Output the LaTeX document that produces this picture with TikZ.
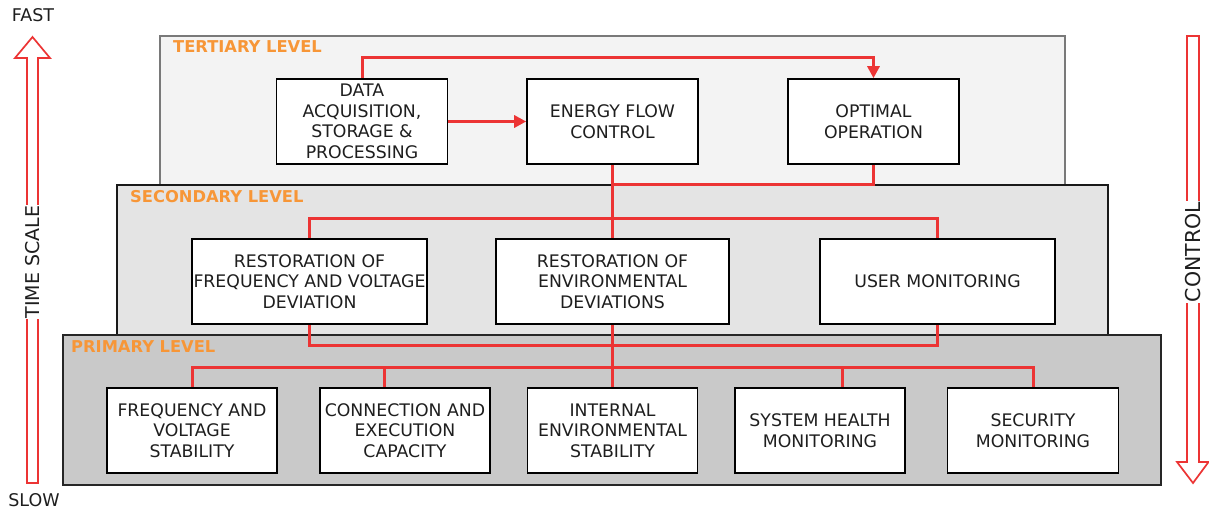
\documentclass[tikz,border=0pt]{standalone}
\usepackage{fontspec}
\setmainfont{DejaVu Sans}
\usetikzlibrary{arrows.meta,calc}
\definecolor{ctrlred}{RGB}{236,52,52}
\definecolor{lvlorange}{RGB}{247,150,55}
\definecolor{txtgray}{RGB}{30,30,30}
\definecolor{tertfill}{RGB}{243,243,243}
\definecolor{secfill}{RGB}{228,228,228}
\definecolor{primfill}{RGB}{201,201,201}
\tikzset{
  fnbox/.style={draw=black, fill=white, line width=1.6pt, rectangle, inner sep=0pt,
    minimum height=85pt, align=center, text=txtgray,
    font=\fontsize{17.3}{20.6}\selectfont},
  lvltitle/.style={anchor=west, inner sep=0pt, text=lvlorange,
    font=\fontsize{16.3}{18}\selectfont\bfseries},
  panel/.style={line width=1.5pt},
  redline/.style={draw=ctrlred, line width=3pt},
  hollowarrow/.style={draw=ctrlred, fill=white, line width=1.7pt, line join=miter},
  sidetext/.style={text=txtgray, font=\fontsize{17.5}{20}\selectfont, inner sep=1pt},
}
\begin{document}
\begin{tikzpicture}[x=1pt,y=-1pt]
\useasboundingbox (0,0) rectangle (1209,512);
\fill[white] (0,0) rectangle (1209,512);

% level panels
\filldraw[panel, fill=tertfill, draw=gray!95!black] (160,36) rectangle (1065,185);
\filldraw[panel, fill=secfill, draw=black!90] (117,185) rectangle (1108,335);
\filldraw[panel, fill=primfill, draw=black!85] (63,335) rectangle (1161,485);

\node[lvltitle] (tlab) at (173,47) {TERTIARY LEVEL};
\node[lvltitle] (slab) at (130,197) {SECONDARY LEVEL};
\node[lvltitle] (plab) at (71,347) {PRIMARY LEVEL};

% function blocks
\node[fnbox, minimum width=171pt] (data) at (362,121.5) {DATA\\ACQUISITION,\\STORAGE \&\\PROCESSING};
\node[fnbox, minimum width=171pt] (energy) at (612.5,121.5) {ENERGY FLOW\\CONTROL};
\node[fnbox, minimum width=171pt] (optimal) at (873.5,121.5) {OPTIMAL\\OPERATION};

\node[fnbox, minimum width=235pt] (restfv) at (309.5,281.5) {RESTORATION OF\\FREQUENCY AND VOLTAGE\\DEVIATION};
\node[fnbox, minimum width=233pt] (restenv) at (612.5,281.5) {RESTORATION OF\\ENVIRONMENTAL\\DEVIATIONS};
\node[fnbox, minimum width=235pt] (user) at (937.5,281.5) {USER MONITORING};

\node[fnbox, minimum width=170pt] (freq) at (192,430.5) {FREQUENCY AND\\VOLTAGE\\STABILITY};
\node[fnbox, minimum width=170pt] (conn) at (405,430.5) {CONNECTION AND\\EXECUTION\\CAPACITY};
\node[fnbox, minimum width=170pt] (internal) at (612.5,430.5) {INTERNAL\\ENVIRONMENTAL\\STABILITY};
\node[fnbox, minimum width=170pt] (sys) at (820,430.5) {SYSTEM HEALTH\\MONITORING};
\node[fnbox, minimum width=171pt] (sec) at (1033,430.5) {SECURITY\\MONITORING};

% bus junctions
\coordinate (tbus) at (612.5,57);
\coordinate (tjoin) at (612.5,184);
\coordinate (sbus) at (612.5,218);
\coordinate (slow) at (612.5,345);
\coordinate (pbus) at (612.5,367);
\coordinate (conntap) at ($(conn.north)+(-21,0)$);
\coordinate (systap) at ($(sys.north)+(22,0)$);

% control connectors
\draw[redline, -{Triangle[length=12pt,width=12pt]}] (data.north) |- (tbus) -| (optimal.north);
\draw[redline, -{Triangle[length=12pt,width=12pt]}] (data.east) -- (energy.west);
\draw[redline] (optimal.south) |- (tjoin);
\draw[redline] (energy.south) -- (restenv.north);
\draw[redline] (restfv.north) |- (sbus) -| (user.north);
\draw[redline] (restfv.south) |- (slow) -| (user.south);
\draw[redline] (restenv.south) -- (internal.north);
\draw[redline] (freq.north) |- (pbus) -| (sec.north);
\draw[redline] (conntap) -- (conntap |- pbus);
\draw[redline] (systap) -- (systap |- pbus);

% time scale arrow
\draw[hollowarrow] (27,483) -- (27,58) -- (15,58) -- (32.5,37) -- (50,58) -- (38,58) -- (38,483) -- cycle;
\node[sidetext, fill=white, rotate=90, font=\fontsize{19}{20}\selectfont] (tscale) at (32.5,262) {TIME SCALE};
\node[sidetext] (fast) at (33,15) {FAST};
\node[sidetext] (slowlab) at (34,500) {SLOW};

% control arrow
\draw[hollowarrow] (1187,36) -- (1199,36) -- (1199,462) -- (1208.5,462) -- (1193,483) -- (1177,462) -- (1187,462) -- cycle;
\node[sidetext, fill=white, rotate=90, font=\fontsize{20.5}{22}\selectfont] (ctrl) at (1193,252) {CONTROL};
\end{tikzpicture}
\end{document}
